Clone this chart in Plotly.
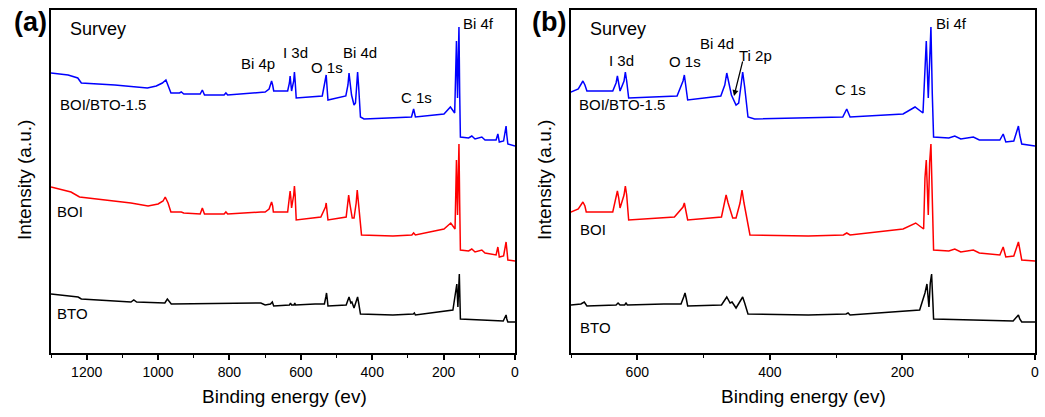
import plotly.graph_objects as go

# ---- data (binding energy in eV, intensity in arbitrary units, offsets included) ----
bto15_E = [1300, 1252, 1225, 1215, 1121, 1030, 1005, 988, 978, 970, 964, 940, 935, 928,
           882, 876, 870, 815, 810, 805, 712, 700, 689, 684, 682, 679, 676, 637, 632, 630, 628, 626,
           620, 618, 616, 613, 540, 531, 529, 527, 524, 474, 468, 465, 462, 458, 451, 447, 443, 441, 438, 433,
           423, 342, 290, 284, 279, 199, 181, 169, 166, 164, 161, 159, 157, 155, 153,
           130, 121, 112, 93, 84, 53, 48, 44, 32, 27, 25, 23, 20, 0]
bto15_I = [280, 278, 275, 270, 268, 265, 267, 270, 273, 266, 260, 260, 261, 259,
           259, 263, 258, 258, 260, 258, 261, 261, 264, 270, 272, 268, 262, 262, 270, 277, 270, 262,
           272, 281, 272, 255, 257, 272, 278, 268, 253, 257, 268, 280, 270, 258, 248, 250, 270, 281, 266, 236,
           234, 235, 236, 244, 236, 239, 246, 240, 290, 312, 255, 300, 326, 260, 216,
           215, 217, 214, 216, 213, 213, 219, 211, 212, 222, 227, 218, 209, 207]

boi_E = [1300, 1244, 1220, 1076, 1028, 1000, 986, 980, 972, 964, 935, 928,
         882, 876, 870, 815, 810, 805, 712, 700, 689, 684, 682, 679, 677, 637, 632, 630, 628, 626,
         620, 618, 616, 613, 544, 531, 529, 527, 524, 473, 469, 466, 463, 456, 451, 445, 442, 439, 430,
         342, 289, 284, 279, 199, 180, 168, 166, 164, 161, 159, 157, 155, 153,
         130, 121, 112, 93, 84, 53, 48, 44, 32, 27, 25, 23, 20, 0]
boi_I = [166, 161, 156, 150, 147, 149, 152, 156, 150, 141, 141, 140,
         139, 145, 139, 139, 141, 139, 141, 141, 144, 149, 151, 147, 141, 141, 155, 162, 155, 145,
         158, 167, 158, 133, 136, 146, 150, 143, 133, 136, 148, 158, 150, 135, 135, 150, 163, 150, 118,
         117, 118, 120, 118, 124, 130, 124, 175, 193, 138, 190, 209, 150, 103,
         102, 104, 101, 103, 100, 98, 106, 96, 97, 106, 111, 104, 93, 92]

bto_E = [1300, 1224, 1215, 1076, 1068, 1060, 981, 974, 963, 712, 700, 685, 680, 676,
         632, 629, 626, 619, 617, 615, 560, 534, 530, 528, 526, 524, 473, 467, 465, 460, 457, 451,
         444, 441, 438, 433, 342, 285, 282, 279, 174, 166, 163, 160, 158, 156, 154, 153,
         33, 27, 25, 23, 20, 0]
bto_I = [59, 56, 54, 51, 53, 51, 50, 54, 49, 50, 48, 49, 51, 47,
         48, 50, 48, 48, 50, 48, 49, 49, 56, 60, 54, 47, 48, 54, 56, 50, 51, 45,
         52, 56, 50, 39, 38, 39, 40, 38, 43, 60, 69, 46, 70, 79, 50, 34,
         32, 36, 38, 34, 31, 31]

series = [("BOI/BTO-1.5", bto15_E, bto15_I, "#0000ff"),
          ("BOI", boi_E, boi_I, "#ff0000"),
          ("BTO", bto_E, bto_I, "#000000")]

left_range = [1300, 0]
right_range = [700, 0]
left_ticks = [0, 200, 400, 600, 800, 1000, 1200]
right_ticks = [0, 200, 400, 600]

W, H = 1045, 417
FONT = "Arial, Liberation Sans, Helvetica, sans-serif"

fig = go.Figure()
for name, E, I, col in series:
    fig.add_trace(go.Scatter(x=E, y=I, mode="lines", line=dict(color=col, width=1.5),
                             xaxis="x", yaxis="y", showlegend=False, name=name))
    fig.add_trace(go.Scatter(x=E, y=I, mode="lines", line=dict(color=col, width=1.5),
                             xaxis="x2", yaxis="y2", showlegend=False, name=name))

def xax(rng, ticks, dom, anchor):
    return dict(domain=dom, range=rng, anchor=anchor, tickvals=ticks, ticktext=[str(t) for t in ticks],
                ticks="outside", ticklen=5, tickwidth=1.5, tickcolor="black",
                minor=dict(dtick=100, tick0=0, ticks="outside", ticklen=3, tickwidth=1.2, tickcolor="black", showgrid=False),
                showline=True, mirror=True, linecolor="black", linewidth=1.5,
                showgrid=False, zeroline=False, automargin=False, ticklabeloverflow="allow",
                tickfont=dict(family=FONT, size=14, color="black"))

def yax(dom, anchor):
    return dict(domain=dom, range=[0, 343], anchor=anchor, showticklabels=False, ticks="",
                showline=True, mirror=True, linecolor="black", linewidth=1.5,
                showgrid=False, zeroline=False, automargin=False)

ydom = [(H - 353) / H, (H - 10) / H]
fig.update_layout(
    width=W, height=H, margin=dict(l=0, r=0, t=0, b=0),
    paper_bgcolor="white", plot_bgcolor="white",
    xaxis=xax(left_range, left_ticks, [51 / W, 515 / W], "y"),
    yaxis=yax(ydom, "x"),
    xaxis2=xax(right_range, right_ticks, [571 / W, 1035 / W], "y2"),
    yaxis2=yax(ydom, "x2"),
    font=dict(family=FONT, color="black"),
)

def txt(s, px, py, size=15, bold=False, angle=0):
    fig.add_annotation(x=px / W, y=1 - py / H, xref="paper", yref="paper", text=("<b>%s</b>" % s) if bold else s,
                       showarrow=False, xanchor="center", yanchor="middle", textangle=angle,
                       font=dict(family=FONT, size=size, color="black"))

# panel (a)
txt("(a)", 30, 22, 27, bold=True)
txt("Survey", 98, 29, 18)
txt("Bi 4p", 258, 64)
txt("I 3d", 295, 52)
txt("O 1s", 327, 67)
txt("Bi 4d", 360, 52)
txt("C 1s", 416, 98)
txt("Bi 4f", 478, 24)
txt("BOI/BTO-1.5", 103, 104)
txt("BOI", 70, 212)
txt("BTO", 72, 313)
txt("Binding energy (ev)", 284, 396, 19)
txt("Intensity (a.u.)", 24, 180, 19, angle=-90)

# panel (b)
txt("(b)", 549, 22, 27, bold=True)
txt("Survey", 618, 29, 18)
txt("I 3d", 621, 61)
txt("O 1s", 685, 62)
txt("Bi 4d", 717, 43)
txt("Ti 2p", 755, 55)
txt("C 1s", 850, 89)
txt("Bi 4f", 951, 24)
txt("BOI/BTO-1.5", 622, 104)
txt("BOI", 593, 229)
txt("BTO", 595, 327)
txt("Binding energy (ev)", 803, 396, 19)
txt("Intensity (a.u.)", 544, 180, 19, angle=-90)

# arrow for Ti 2p
fig.add_annotation(x=734 / W, y=1 - 96 / H, xref="paper", yref="paper", text="",
                   showarrow=True, ax=9, ay=-36, arrowhead=2, arrowsize=1, arrowwidth=1.2,
                   arrowcolor="black")

fig.write_html("out.html", config={"displayModeBar": False},
               post_script="document.body.style.margin='0';document.body.style.overflow='hidden';")
